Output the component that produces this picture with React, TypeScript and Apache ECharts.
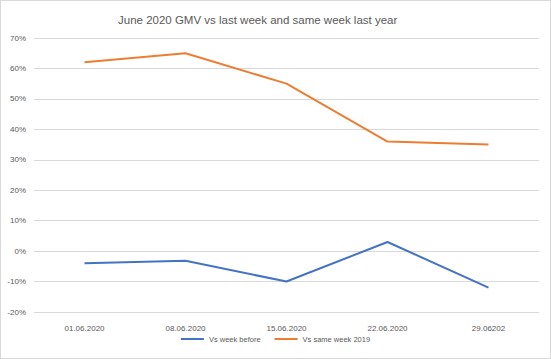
import React, { useEffect, useRef } from "react";
import * as echarts from "echarts";

const categories = ["01.06.2020", "08.06.2020", "15.06.2020", "22.06.2020", "29.06202"];
const vsWeekBefore = [-4, -3.2, -10, 3, -12];
const vsSameWeek2019 = [62, 65, 55, 36, 35];
const seriesNames = ["Vs week before", "Vs same week 2019"];

export default function App() {
  const ref = useRef<HTMLDivElement>(null);
  useEffect(() => {
    document.body.style.margin = "0";
    const chart = echarts.init(ref.current!, null, { renderer: "svg" });
    const font = "Liberation Sans";
    chart.setOption({
      animation: false,
      backgroundColor: "#ffffff",
      title: {
        text: "June 2020 GMV vs last week and same week last year",
        left: 112,
        top: 8,
        textStyle: { fontFamily: font, fontSize: 11.5, fontWeight: "normal", color: "#595959" },
      },
      legend: {
        bottom: 10,
        left: "center",
        icon: "rect",
        itemWidth: 23,
        itemHeight: 2,
        itemGap: 14,
        textStyle: { fontFamily: font, fontSize: 7.5, color: "#595959" },
        data: seriesNames,
      },
      grid: { left: 33, right: 11, top: 37, bottom: 46 },
      xAxis: {
        type: "category",
        data: categories,
        boundaryGap: true,
        axisLine: { show: true, lineStyle: { color: "#d9d9d9" } },
        axisTick: { show: false },
        axisLabel: { fontFamily: font, fontSize: 8, color: "#595959", margin: 12 },
      },
      yAxis: {
        type: "value",
        min: -20,
        max: 70,
        interval: 10,
        axisLine: { show: false },
        axisTick: { show: false },
        splitLine: { lineStyle: { color: "#d9d9d9" } },
        axisLabel: { fontFamily: font, fontSize: 8, color: "#595959", formatter: "{value}%", margin: 8 },
      },
      series: [
        {
          name: seriesNames[0],
          type: "line",
          data: vsWeekBefore,
          showSymbol: false,
          symbol: "none",
          lineStyle: { color: "#4472c4", width: 2 },
          itemStyle: { color: "#4472c4" },
        },
        {
          name: seriesNames[1],
          type: "line",
          data: vsSameWeek2019,
          showSymbol: false,
          symbol: "none",
          lineStyle: { color: "#ed7d31", width: 2 },
          itemStyle: { color: "#ed7d31" },
        },
      ],
    });
    return () => chart.dispose();
  }, []);
  return (
    <div
      style={{ width: 551, height: 359, boxSizing: "border-box", border: "1px solid #d9d9d9", background: "#fff" }}
    >
      <div ref={ref} style={{ width: 549, height: 357 }} />
    </div>
  );
}
